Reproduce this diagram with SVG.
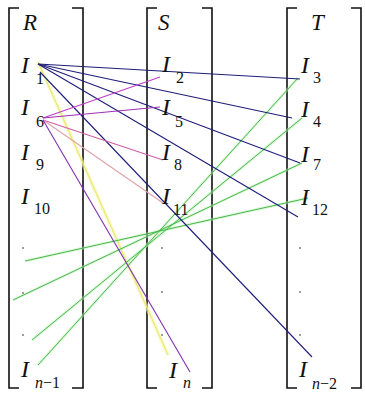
<svg xmlns="http://www.w3.org/2000/svg" width="365" height="396" viewBox="0 0 365 396">
<style>
.br{fill:none;stroke:#111;stroke-width:1.6}
text{font-family:"Liberation Serif","DejaVu Serif",serif;fill:#111}
.hd{font-style:italic;font-size:23px}
.i{font-style:italic;font-size:24px}
.s{font-size:16px}
.si{font-style:italic;font-size:16px}
.dot{fill:#222}
.nv{stroke:#1e1e7a;stroke-width:1.1;fill:none}
.gl{stroke:#b8f0b8;stroke-width:3;opacity:.45;fill:none}
.gr{stroke:#48b848;stroke-width:1;fill:none}
.yl{stroke:#f6f6b0;stroke-width:4;opacity:.6;fill:none}
.yc{stroke:#e8e870;stroke-width:1.1;fill:none}
</style>
<rect width="365" height="396" fill="#fff"/>
<g id="col-R">
<path class="br" d="M19,8H9V388H19M72,8H83V388H72"/>
<text class="hd" x="23" y="30">R</text>
</g>
<g id="col-S">
<path class="br" d="M157,8H147V388H157M202,8H212V388H202"/>
<text class="hd" x="158" y="30">S</text>
</g>
<g id="col-T">
<path class="br" d="M297,8H287V388H297M351,8H361V388H351"/>
<text class="hd" x="311" y="30">T</text>
</g>
<g id="connectors">
<line class="yl" x1="38" y1="62" x2="168" y2="355"/>
<line class="yc" x1="38" y1="62" x2="168" y2="355"/>
<line class="gl" x1="25" y1="261" x2="308" y2="198"/>
<line class="gl" x1="13" y1="300" x2="302" y2="163"/>
<line class="gl" x1="32" y1="340" x2="302" y2="118"/>
<line class="gl" x1="38" y1="365" x2="298" y2="78"/>
<line class="gr" x1="25" y1="261" x2="308" y2="198"/>
<line class="gr" x1="13" y1="300" x2="302" y2="163"/>
<line class="gr" x1="32" y1="340" x2="302" y2="118"/>
<line class="gr" x1="38" y1="365" x2="298" y2="78"/>
<line class="nv" x1="38" y1="64" x2="300" y2="79" stroke="#2424a0"/>
<line class="nv" x1="38" y1="64" x2="292" y2="118"/>
<line class="nv" x1="38" y1="64" x2="300" y2="163"/>
<line class="nv" x1="38" y1="64" x2="298" y2="217"/>
<line class="nv" x1="40" y1="72" x2="312" y2="357"/>
<line stroke="#c040c8" stroke-width="1.1" x1="43" y1="118" x2="160" y2="77"/>
<line stroke="#a030b8" stroke-width="1.1" x1="43" y1="118" x2="160" y2="107"/>
<line stroke="#d060a8" stroke-width="1.1" x1="43" y1="120" x2="163" y2="160"/>
<line stroke="#e0a0a8" stroke-width="1.1" x1="43" y1="120" x2="163" y2="203"/>
<line stroke="#8030b0" stroke-width="1.1" x1="43" y1="120" x2="190" y2="372"/>
</g>
<g id="R-nodes">
<g id="I1"><text class="i" x="21" y="73">I</text><text class="s" x="36" y="84">1</text></g>
<g id="I6"><text class="i" x="21" y="115">I</text><text class="s" x="36" y="127">6</text></g>
<g id="I9"><text class="i" x="21" y="160">I</text><text class="s" x="36" y="170">9</text></g>
<g id="I10"><text class="i" x="21" y="204">I</text><text class="s" x="34" y="214">10</text></g>
<circle class="dot" cx="23" cy="248" r="0.8"/><circle class="dot" cx="23" cy="293" r="0.8"/><circle class="dot" cx="23" cy="335" r="0.8"/>
<g id="In-1"><text class="i" x="21" y="377">I</text><text class="s" x="35" y="388"><tspan class="si">n</tspan>−1</text></g>
</g>
<g id="S-nodes">
<g id="I2"><text class="i" x="162" y="72">I</text><text class="s" x="176" y="83">2</text></g>
<g id="I5"><text class="i" x="162" y="115">I</text><text class="s" x="175" y="127">5</text></g>
<g id="I8"><text class="i" x="162" y="160">I</text><text class="s" x="174" y="170">8</text></g>
<g id="I11"><text class="i" x="162" y="204">I</text><text class="s" x="173" y="215">11</text></g>
<circle class="dot" cx="162" cy="248" r="0.8"/><circle class="dot" cx="162" cy="292" r="0.8"/><circle class="dot" cx="162" cy="335" r="0.8"/>
<g id="In"><text class="i" x="169" y="378">I</text><text class="si" x="183" y="388">n</text></g>
</g>
<g id="T-nodes">
<g id="I3"><text class="i" x="301" y="73">I</text><text class="s" x="313" y="83">3</text></g>
<g id="I4"><text class="i" x="301" y="117">I</text><text class="s" x="313" y="127">4</text></g>
<g id="I7"><text class="i" x="301" y="162">I</text><text class="s" x="313" y="170">7</text></g>
<g id="I12"><text class="i" x="301" y="205">I</text><text class="s" x="312" y="215">12</text></g>
<circle class="dot" cx="300" cy="248" r="0.8"/><circle class="dot" cx="300" cy="292" r="0.8"/><circle class="dot" cx="300" cy="335" r="0.8"/>
<g id="In-2"><text class="i" x="299" y="377">I</text><text class="s" x="312" y="389"><tspan class="si">n</tspan>−2</text></g>
</g>
</svg>
